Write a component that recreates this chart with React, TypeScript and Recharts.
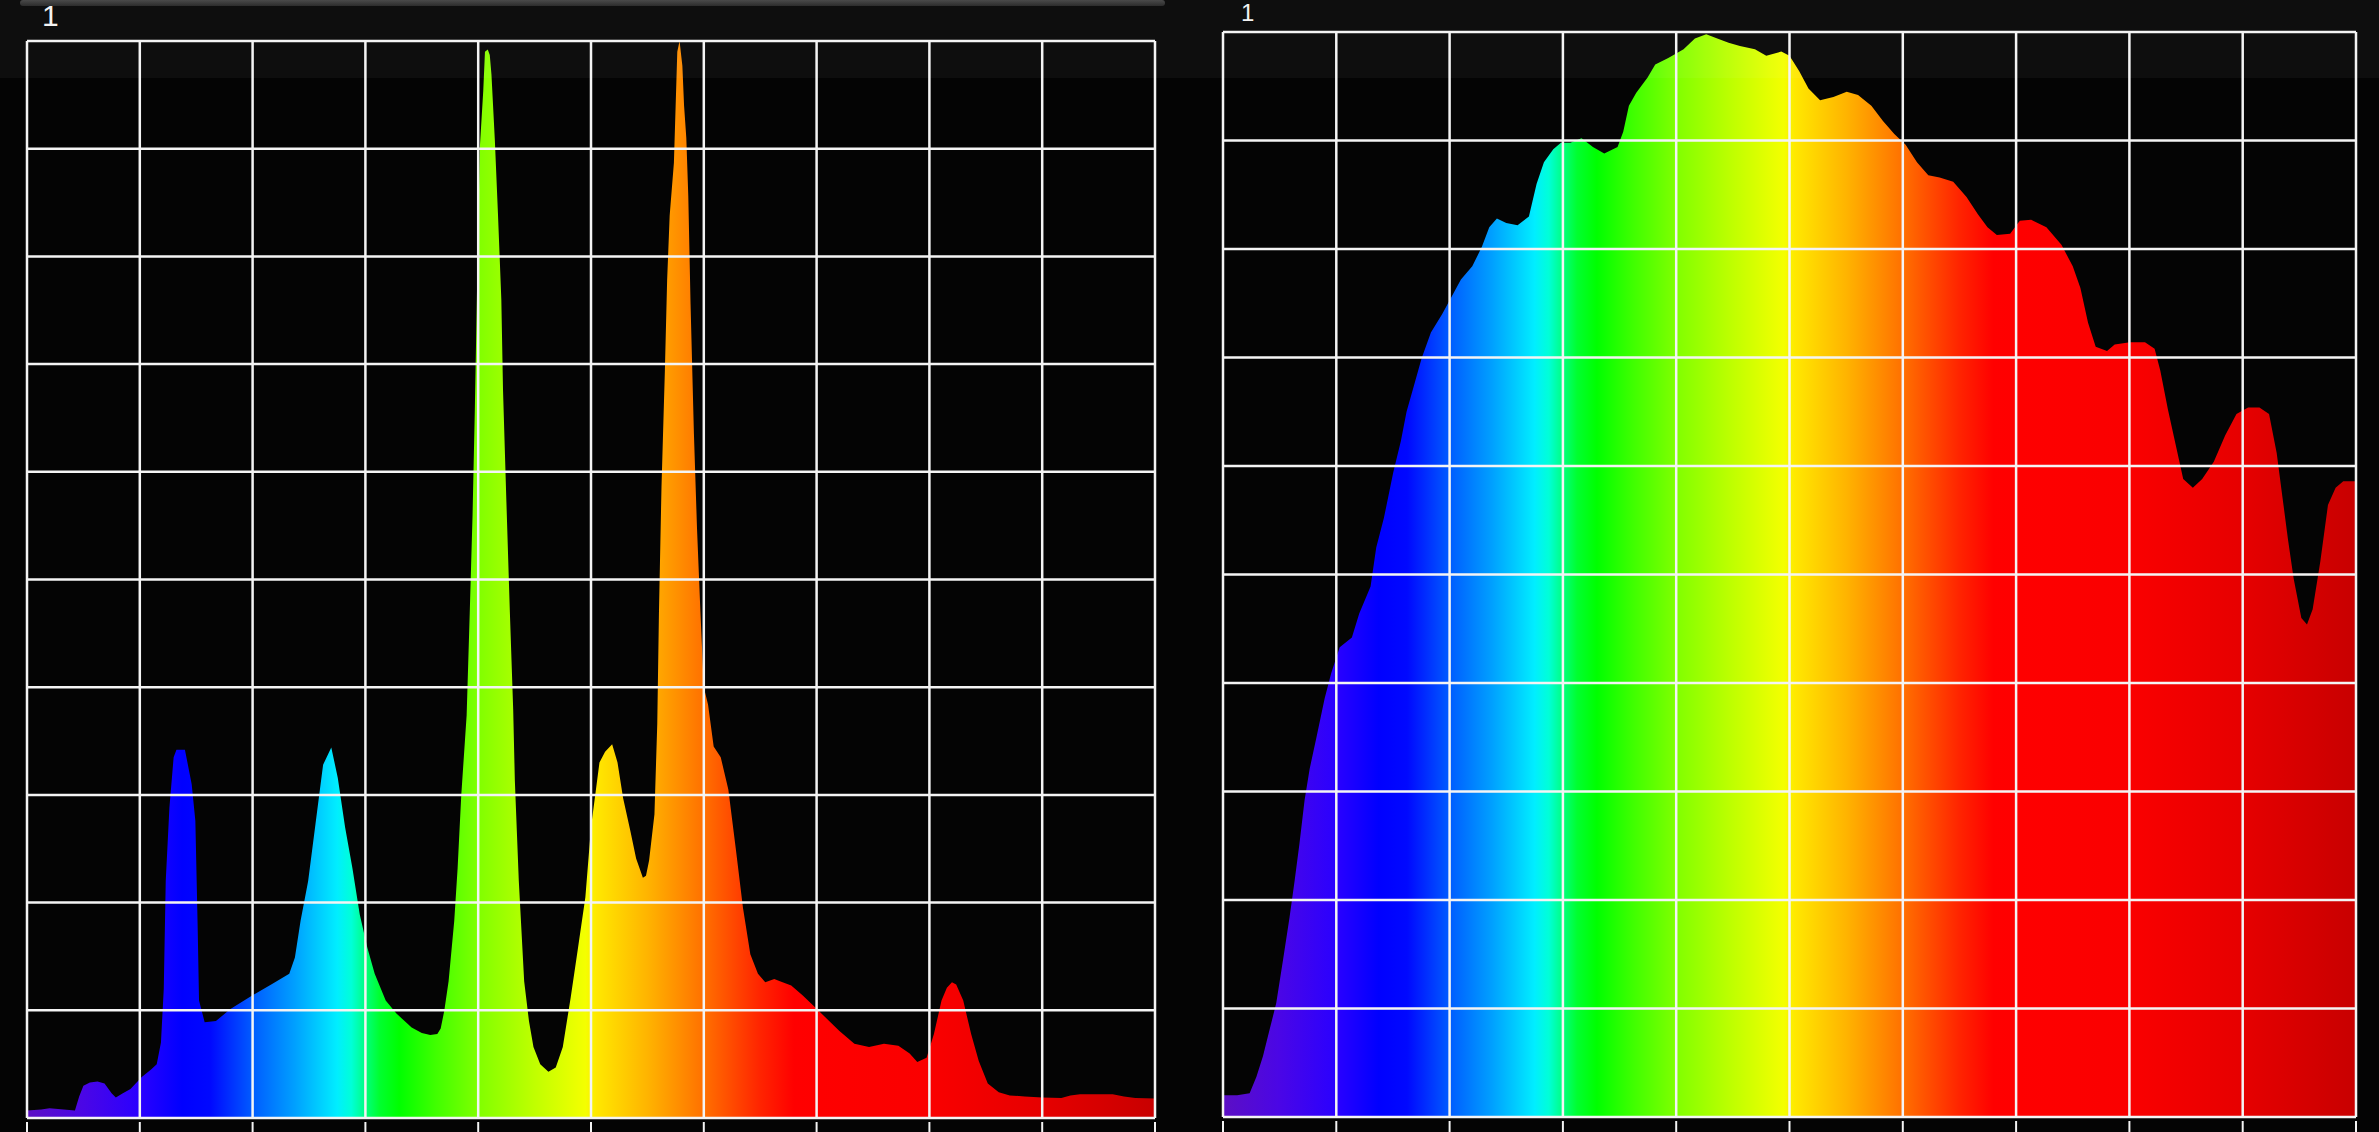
import React from 'react';
import { AreaChart, Area, XAxis, YAxis, ReferenceLine } from 'recharts';

// wavelength grid (nm) and intensity grid (%)
const xTicks = [380, 420, 460, 500, 540, 580, 620, 660, 700, 740, 780];
const yTicks = [0, 10, 20, 30, 40, 50, 60, 70, 80, 90, 100];

// Left panel: fluorescent (CFL) spectrum
const cflNm = [
  380, 385, 388, 393, 397, 398.5, 400, 402.3, 405, 407.5, 410, 411.5, 414, 416.7, 420.7, 424, 426,
  427.5, 428.5, 429.2, 430.5, 432, 433, 436, 438.4, 439.7, 440.5, 441, 443, 447, 452, 458.7, 466.6,
  473, 475, 477, 479.7, 482.3, 485, 487.9, 490.2, 492.8, 495.4, 498, 500.7, 503.3, 507.2, 511,
  516.4, 520, 523, 525.5, 526.7, 528, 529.5, 531.5, 532.7, 534, 535.9, 537, 538, 538.8, 539.8,
  540.6, 541.8, 542.4, 543.4, 544.1, 544.7, 545.9, 547, 548.2, 548.8, 550, 551.2, 552.4, 553,
  554.4, 556.3, 558, 559.6, 562, 564.9, 567.5, 570, 572.8, 575.4, 578, 580, 581.5, 583, 585,
  587.5, 589.4, 591.4, 594, 596, 598.4, 599.5, 600.6, 602.5, 603.5, 604.1, 605, 606.2, 607,
  607.9, 609.4, 610.6, 611.4, 612.4, 613, 613.8, 614.5, 615.3, 616.5, 617.6, 618.8, 620, 621.5,
  623.5, 626, 628.7, 631.3, 633.9, 636.5, 639.2, 641.8, 645, 647, 651, 655, 659, 662.9, 668,
  673.4, 678.6, 683.9, 689, 693, 695.7, 699, 701.6, 704.3, 706.2, 708, 709.5, 712, 714.8, 717.5,
  720.7, 724.6, 728.5, 733.8, 740, 746.8, 750, 753.4, 765, 769, 773, 780,
];
const cflVal = [
  0.7, 0.8, 0.9, 0.8, 0.7, 2.0, 3.0, 3.3, 3.4, 3.2, 2.3, 1.9, 2.3, 2.7, 3.8, 4.5, 5.0,
  7.0, 12, 22, 28.8, 33.5, 34.2, 34.2, 31, 27.6, 18, 10.9, 8.9, 9.0, 10.1, 11.2, 12.4,
  13.4, 14.9, 18.3, 22, 27.3, 32.8, 34.4, 31.6, 27, 23.2, 18.9, 15.8, 13.4, 10.9, 9.7,
  8.4, 7.9, 7.7, 7.8, 8.3, 10, 12.7, 18.3, 23.2, 30, 37.4, 46.9, 56, 65.7, 80,
  90.2, 95.4, 99, 99.2, 98.7, 96.9, 90.8, 84, 76, 67.6, 57.2, 47.2, 38, 31.3,
  22, 12.7, 9, 6.6, 5, 4.3, 4.7, 6.6, 11.2, 15.8, 20.5, 27, 30, 33, 34,
  34.7, 33, 29.7, 26.6, 24.1, 22.3, 22.5, 23.9, 28.2, 36.6, 47, 58.6, 69.4, 77.8,
  83.8, 88.7, 99, 100, 97.7, 94, 91, 85.6, 75.6, 63.5, 54.7, 47, 40, 38.4,
  34.5, 33.5, 30.5, 25.1, 19.5, 15.2, 13.4, 12.6, 12.9, 12.7, 12.3, 11.4, 10.4, 9.4, 8.1,
  6.9, 6.6, 6.9, 6.7, 6.0, 5.2, 5.6, 7.8, 10.9, 12.1, 12.6, 12.4, 10.9, 7.8, 5.3,
  3.2, 2.4, 2.1, 2.0, 1.9, 1.85, 2.1, 2.2, 2.2, 2.0, 1.85, 1.8,
];

// Right panel: broad-band spectrum
const broadNm = [
  380, 385, 389.4, 391.8, 394.1, 396.5, 398.8, 401.2, 403.5, 405.3, 407, 408.8, 410.6, 413,
  415.9, 418.2, 421.2, 425.5, 428.1, 432.1, 434.1, 436.8, 440.1, 442.8, 444.8, 447.4, 450.1,
  453.4, 457.4, 460.7, 464, 468, 471.4, 474, 476.7, 480, 484, 488, 490.7, 493.3, 496.6, 499.3,
  502.6, 506.6, 510.6, 514.6, 519.3, 521.3, 523.3, 525.9, 529.9, 532.6, 537.2, 542.6, 546.6,
  550.6, 554.5, 558.5, 562.5, 567.8, 571.8, 577.1, 580, 583.4, 586.7, 590.8, 595.5, 600.2,
  604.2, 608.9, 613, 617, 621, 625, 629, 633, 637.8, 642.5, 646.5, 649.9, 653.2, 657.9, 661.3,
  665.3, 670.7, 676, 680, 682.7, 685.4, 688.1, 692.1, 694.8, 700.2, 705.5, 708.9, 710.9, 713.6,
  716.3, 719, 722.4, 725.7, 729.8, 733.8, 737.8, 741.9, 745.9, 749.3, 752, 754, 756, 758, 760.7,
  762.7, 764.7, 767.4, 770.1, 772.8, 775.5, 780,
];
const broadVal = [
  2.0, 2.0, 2.2, 3.7, 5.6, 8.1, 10.5, 14.5, 18.4, 21.8, 25.2, 29.2, 32.1, 35,
  38.6, 40.9, 43.3, 44.2, 46.4, 48.9, 52.5, 55.2, 59.4, 62.3, 65, 67.4, 69.9,
  72.3, 74, 75.6, 77.2, 78.4, 80.2, 82, 82.8, 82.4, 82.2, 83, 86, 88, 89.2, 89.8,
  89.8, 90.2, 89.4, 88.8, 89.4, 90.8, 93.2, 94.4, 95.8, 97, 97.6, 98.4, 99.4,
  99.8, 99.4, 99, 98.7, 98.4, 97.8, 98.2, 97.8, 96.4, 94.8, 93.7, 94, 94.5,
  94.2, 93.2, 91.8, 90.6, 89.6, 88, 86.8, 86.6, 86.2, 84.8, 83.2, 82, 81.3, 81.4, 82.6,
  82.7, 82, 80.4, 78.4, 76.4, 73.2, 71, 70.6, 71.2, 71.4, 71.4, 70.8, 68.8, 65.2,
  62, 58.8, 58, 58.8, 60.4, 62.8, 64.8, 65.4, 65.4, 64.8, 61.2, 57.2, 53.2, 49.6, 46,
  45.4, 46.8, 51.2, 56.4, 58, 58.6, 58.6,
];

// colour of the fill along the wavelength axis
const spectrumNm = [380, 400, 420, 435, 445, 460, 475, 490, 495, 500, 505, 512, 525, 540, 560, 578, 582, 600, 620, 640, 652, 700, 740, 780];
const spectrumColors = [
  '#5c0fc4', '#4a06e6', '#2a00ff', '#0000ff', '#0008ff', '#005cff', '#00a0ff', '#00eeff',
  '#00ffd8', '#00ff80', '#00ff30', '#00ff00', '#40ff00', '#80ff00', '#c0ff00', '#f4ff00',
  '#ffe800', '#ffb400', '#ff7000', '#ff2400', '#ff0000', '#fa0000', '#e60000', '#c80000',
];

const cflData = cflNm.map((nm, i) => ({ nm, v: cflVal[i] }));
const broadData = broadNm.map((nm, i) => ({ nm, v: broadVal[i] }));

const GRID = '#f4f4f4';
const GRID_W = 2.5;

const TickMark = (props: any) => {
  const { x, y } = props;
  return <line x1={x} x2={x} y1={y + 4} y2={y + 20} stroke={GRID} strokeWidth={2} />;
};

function Panel({ data, id, width, height, margin, axisH }: any) {
  return (
    <AreaChart width={width} height={height} data={data} margin={margin}>
      <defs>
        <linearGradient id={id} x1="0" y1="0" x2="1" y2="0">
          {spectrumNm.map((nm, i) => (
            <stop key={nm} offset={`${((nm - 380) / 400) * 100}%`} stopColor={spectrumColors[i]} />
          ))}
        </linearGradient>
      </defs>
      <XAxis
        type="number"
        dataKey="nm"
        domain={[380, 780]}
        ticks={xTicks}
        interval={0}
        allowDataOverflow
        tickLine={false}
        axisLine={false}
        tickSize={0}
        tickMargin={0}
        height={axisH}
        tick={<TickMark />}
      />
      <YAxis type="number" domain={[0, 100]} ticks={yTicks} allowDataOverflow hide />
      <Area
        type="linear"
        dataKey="v"
        stroke="none"
        fill={`url(#${id})`}
        fillOpacity={1}
        isAnimationActive={false}
        dot={false}
        activeDot={false}
      />
      {xTicks.map((t) => (
        <ReferenceLine key={'x' + t} x={t} stroke={GRID} strokeWidth={GRID_W} ifOverflow="visible" />
      ))}
      {yTicks.map((t) => (
        <ReferenceLine key={'y' + t} y={t} stroke={GRID} strokeWidth={GRID_W} ifOverflow="visible" />
      ))}
    </AreaChart>
  );
}

export default function App() {
  return (
    <div
      style={{
        position: 'absolute',
        left: 0,
        top: 0,
        width: 2379,
        height: 1132,
        background: '#040404',
        overflow: 'hidden',
        fontFamily: '"Liberation Sans", Arial, sans-serif',
      }}
    >
      <div style={{ position: 'absolute', left: 0, top: 0 }}>
        <Panel
          data={cflData}
          id="specLeft"
          width={1175}
          height={1132}
          margin={{ top: 41, left: 27, right: 20, bottom: 0 }}
          axisH={14}
        />
      </div>
      <div style={{ position: 'absolute', left: 1175, top: 0 }}>
        <Panel
          data={broadData}
          id="specRight"
          width={1204}
          height={1132}
          margin={{ top: 32, left: 48, right: 23, bottom: 0 }}
          axisH={15}
        />
      </div>
      {/* top light band */}
      <div
        style={{
          position: 'absolute',
          left: 0,
          top: 0,
          width: 2379,
          height: 78,
          background: 'rgba(255,255,255,0.045)',
          pointerEvents: 'none',
        }}
      />
      {/* labels */}
      <div
        style={{
          position: 'absolute',
          left: 42,
          top: 1,
          fontSize: 30,
          lineHeight: '30px',
          color: '#f2f2f2',
        }}
      >
        1
      </div>
      <div
        style={{
          position: 'absolute',
          left: 1241,
          top: 1,
          fontSize: 24,
          lineHeight: '24px',
          color: '#f2f2f2',
        }}
      >
        1
      </div>
      {/* grey bar at the top of the left panel */}
      <div
        style={{
          position: 'absolute',
          left: 20,
          top: 0,
          width: 1145,
          height: 6,
          borderRadius: 3,
          background: 'linear-gradient(#4a4a4a, #2c2c2c)',
        }}
      />
    </div>
  );
}
